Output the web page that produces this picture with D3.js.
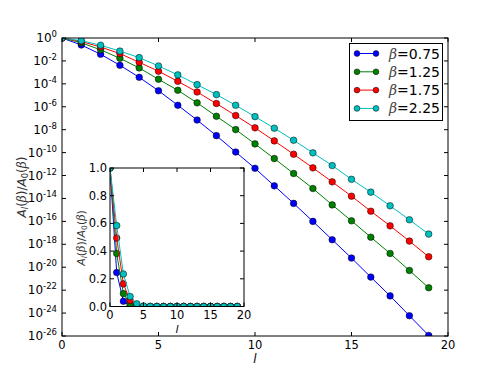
<!DOCTYPE html>
<html><head><meta charset="utf-8">
<script src="https://cdn.jsdelivr.net/npm/d3@7"></script>
<style>body{margin:0;background:#fff}svg{display:block}text{font-family:"DejaVu Sans",sans-serif}</style>
</head><body>
<script>
const ls = d3.range(0, 20);
const betas = ["0.75", "1.25", "1.75", "2.25"];
const colors = ["#0000ff", "#008000", "#ff0000", "#00bfbf"];
const s075 = [1, 0.245, 0.038, 4.17e-3, 3.72e-4, 2.51e-5, 1.35e-6, 6.92e-8, 3.02e-9, 1.12e-10, 4.27e-12, 1.26e-13, 3.72e-15, 1e-16, 2.51e-18, 6.31e-20, 1.38e-21, 3.16e-23, 5.89e-25, 1.12e-26];
const s125 = [1, 0.383, 9.3e-2, 1.70e-2, 2.45e-3, 2.51e-4, 2.75e-5, 2.19e-6, 1.48e-7, 1.02e-8, 5.75e-10, 3.02e-11, 1.51e-12, 7.41e-14, 2.75e-15, 1.12e-16, 4.17e-18, 1.58e-19, 5.25e-21, 1.62e-22];
const s175 = [1, 0.494, 0.163, 4.37e-2, 7.59e-3, 1.26e-3, 1.66e-4, 1.95e-5, 1.91e-6, 1.70e-7, 1.45e-8, 1.05e-9, 7.24e-11, 4.68e-12, 2.82e-13, 1.58e-14, 7.76e-16, 4.07e-17, 1.91e-18, 8.13e-20];
const s225 = [1, 0.584, 0.235, 7.2e-2, 1.95e-2, 3.63e-3, 6.03e-4, 8.51e-5, 1.15e-5, 1.35e-6, 1.38e-7, 1.35e-8, 1.20e-9, 9.55e-11, 7.41e-12, 4.68e-13, 3.55e-14, 2.29e-15, 1.38e-16, 7.76e-18];
const seriesVals = [s075, s125, s175, s225];
const xTicks = [0, 5, 10, 15, 20];
const yExps = d3.range(0, -27, -2);
const insetYTicks = [0, 0.2, 0.4, 0.6, 0.8, 1.0];

const W = 498, H = 374;
const svg = d3.select("body").append("svg").attr("width", W).attr("height", H);
const M = {l: 62, r: 448, t: 38, b: 336};
const x = d3.scaleLinear().domain([0, 20]).range([M.l, M.r]);
const y = d3.scaleLog().domain([1e-26, 1]).range([M.b, M.t]);

svg.append("defs").append("clipPath").attr("id", "mainclip")
  .append("rect").attr("x", M.l).attr("y", M.t).attr("width", M.r - M.l).attr("height", M.b - M.t);
svg.select("defs").append("clipPath").attr("id", "insclip")
  .append("rect").attr("x", 110).attr("y", 168).attr("width", 134).attr("height", 138.5);

function drawSeries(g, xs, ys, clip, r) {
  const gg = g.append("g").attr("clip-path", `url(#${clip})`);
  seriesVals.forEach((vals, i) => {
    const pts = ls.map((l, j) => [xs(l), ys(vals[j])]);
    gg.append("path").attr("d", d3.line()(pts)).attr("fill", "none").attr("stroke", colors[i]).attr("stroke-width", 1);
    gg.selectAll(null).data(pts).enter().append("circle")
      .attr("cx", d => d[0]).attr("cy", d => d[1]).attr("r", r)
      .attr("fill", colors[i]).attr("stroke", "#000").attr("stroke-width", 0.5);
  });
}

drawSeries(svg, x, y, "mainclip", 3.3);

svg.append("rect").attr("x", M.l).attr("y", M.t).attr("width", M.r - M.l).attr("height", M.b - M.t)
  .attr("fill", "none").attr("stroke", "#000").attr("stroke-width", 1);

const TL = 4;
xTicks.forEach(t => {
  const px = x(t);
  svg.append("line").attr("x1", px).attr("x2", px).attr("y1", M.b).attr("y2", M.b - TL).attr("stroke", "#000");
  svg.append("line").attr("x1", px).attr("x2", px).attr("y1", M.t).attr("y2", M.t + TL).attr("stroke", "#000");
  svg.append("text").attr("x", px).attr("y", M.b + 13).attr("text-anchor", "middle").attr("font-size", 11.5).text(t);
});
yExps.forEach(e => {
  const py = y(Math.pow(10, e));
  svg.append("line").attr("x1", M.l).attr("x2", M.l + TL).attr("y1", py).attr("y2", py).attr("stroke", "#000");
  svg.append("line").attr("x1", M.r).attr("x2", M.r - TL).attr("y1", py).attr("y2", py).attr("stroke", "#000");
  const t = svg.append("text").attr("x", M.l - 5).attr("y", py + 4).attr("text-anchor", "end").attr("font-size", 12);
  t.append("tspan").text("10");
  t.append("tspan").attr("dy", -5).attr("font-size", 8.5).text(e === 0 ? "0" : "-" + Math.abs(e));
});

function mathLabel(sel, fs) {
  sel.append("tspan").attr("font-style", "italic").text("A");
  sel.append("tspan").attr("font-style", "italic").attr("font-size", fs * 0.7).attr("dy", 2).text("l");
  sel.append("tspan").attr("dy", -2).text("(");
  sel.append("tspan").attr("font-style", "italic").attr("font-family", "DejaVu Serif").text("β");
  sel.append("tspan").text(")/");
  sel.append("tspan").attr("font-style", "italic").text("A");
  sel.append("tspan").attr("font-size", fs * 0.7).attr("dy", 2).text("0");
  sel.append("tspan").attr("dy", -2).text("(");
  sel.append("tspan").attr("font-style", "italic").attr("font-family", "DejaVu Serif").text("β");
  sel.append("tspan").text(")");
}
const yl = svg.append("text").attr("transform", `translate(26,187) rotate(-90)`).attr("text-anchor", "middle").attr("font-size", 12).attr("fill", "#333");
mathLabel(yl, 12);
svg.append("text").attr("x", 255).attr("y", 363).attr("text-anchor", "middle").attr("font-size", 12).attr("font-style", "italic").text("l");

const lg = svg.append("g");
lg.append("rect").attr("x", 349.5).attr("y", 43.5).attr("width", 93).attr("height", 77).attr("fill", "#fff").attr("stroke", "#000");
betas.forEach((b, i) => {
  const yy = 53.5 + i * 18.3;
  lg.append("line").attr("x1", 357).attr("x2", 376).attr("y1", yy).attr("y2", yy).attr("stroke", colors[i]);
  [357, 376].forEach(cx => lg.append("circle").attr("cx", cx).attr("cy", yy).attr("r", 2.9).attr("fill", colors[i]).attr("stroke", "#000").attr("stroke-width", 0.5));
  const t = lg.append("text").attr("x", 389).attr("y", yy + 5).attr("font-size", 14);
  t.append("tspan").attr("font-style", "italic").attr("font-family", "DejaVu Serif").attr("fill", "#444").text("β");
  t.append("tspan").text("=" + b);
});

const I = {l: 110, r: 244, t: 168, b: 306.5};
svg.append("rect").attr("x", I.l).attr("y", I.t).attr("width", I.r - I.l).attr("height", I.b - I.t).attr("fill", "#fff");
const xi = d3.scaleLinear().domain([0, 20]).range([I.l, I.r]);
const yi = d3.scaleLinear().domain([0, 1]).range([I.b, I.t]);
drawSeries(svg, xi, yi, "insclip", 3.3);
svg.append("rect").attr("x", I.l).attr("y", I.t).attr("width", I.r - I.l).attr("height", I.b - I.t)
  .attr("fill", "none").attr("stroke", "#000").attr("stroke-width", 1);
xTicks.forEach(t => {
  const px = xi(t);
  svg.append("line").attr("x1", px).attr("x2", px).attr("y1", I.b).attr("y2", I.b - TL).attr("stroke", "#000");
  svg.append("line").attr("x1", px).attr("x2", px).attr("y1", I.t).attr("y2", I.t + TL).attr("stroke", "#000");
  svg.append("text").attr("x", px).attr("y", I.b + 12).attr("text-anchor", "middle").attr("font-size", 11.5).text(t);
});
insetYTicks.forEach(t => {
  const py = yi(t);
  svg.append("line").attr("x1", I.l).attr("x2", I.l + TL).attr("y1", py).attr("y2", py).attr("stroke", "#000");
  svg.append("line").attr("x1", I.r).attr("x2", I.r - TL).attr("y1", py).attr("y2", py).attr("stroke", "#000");
  svg.append("text").attr("x", I.l - 3).attr("y", py + 4).attr("text-anchor", "end").attr("font-size", 11.5).text(t.toFixed(1));
});
const yl2 = svg.append("text").attr("transform", `translate(85,238) rotate(-90)`).attr("text-anchor", "middle").attr("font-size", 11).attr("fill", "#333");
mathLabel(yl2, 11);
svg.append("text").attr("x", 177).attr("y", 333).attr("text-anchor", "middle").attr("font-size", 11).attr("font-style", "italic").text("l");
</script>
</body></html>
